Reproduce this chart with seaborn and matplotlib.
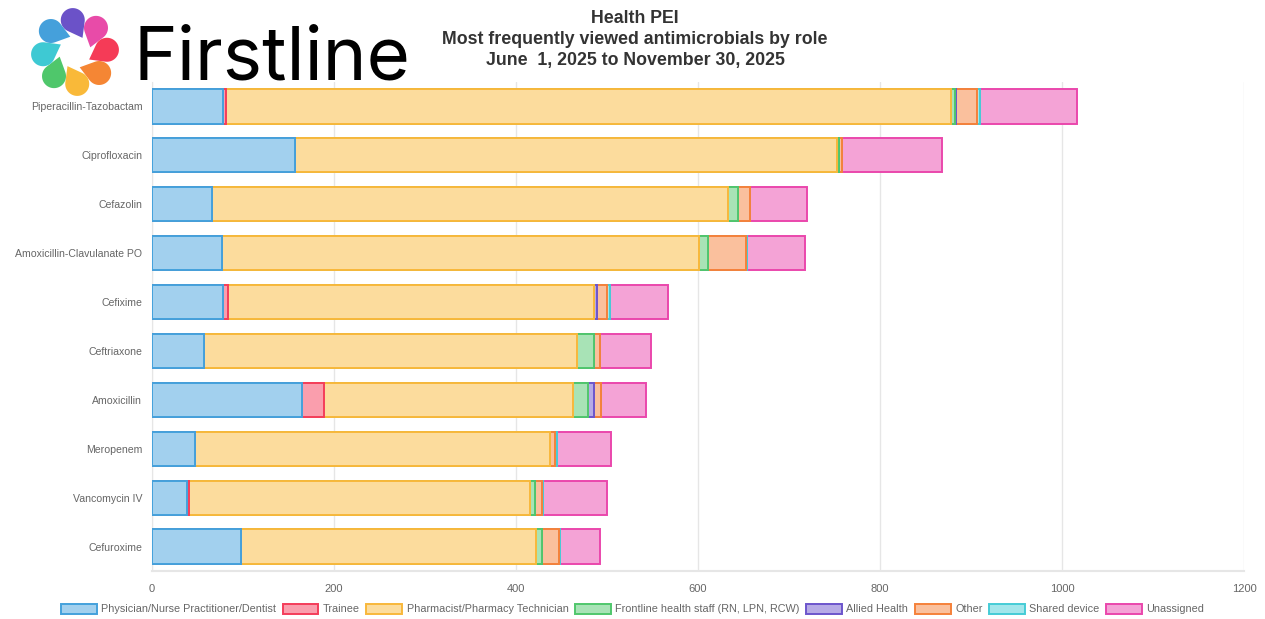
import numpy as np
import matplotlib
matplotlib.use("Agg")
import matplotlib.pyplot as plt
from matplotlib.patches import Patch, Polygon
from matplotlib.ticker import FixedLocator
import seaborn as sns

drugs = ["Piperacillin-Tazobactam", "Ciprofloxacin", "Cefazolin",
         "Amoxicillin-Clavulanate PO", "Cefixime", "Ceftriaxone",
         "Amoxicillin", "Meropenem", "Vancomycin IV", "Cefuroxime"]

roles = ["Physician/Nurse Practitioner/Dentist", "Trainee",
         "Pharmacist/Pharmacy Technician", "Frontline health staff (RN, LPN, RCW)",
         "Allied Health", "Other", "Shared device", "Unassigned"]

physician = [78, 157, 66, 77, 78, 57, 165, 47, 38, 98]
trainee = [3, 0, 0, 0, 6, 0, 24, 0, 3, 0]
pharmacist = [797, 596, 567, 524, 402, 410, 274, 390, 374, 324]
frontline = [4, 2, 11, 10, 0, 19, 16, 0, 6, 7]
allied = [2, 0, 0, 0, 3, 0, 7, 0, 0, 0]
other = [23, 3, 13, 42, 11, 6, 7, 6, 8, 18]
shared = [3, 0, 0, 1, 3, 0, 0, 2, 1, 1]
unassigned = [106, 110, 63, 64, 64, 56, 50, 59, 70, 44]

role_colors = ["#44a1dc", "#f43d5a", "#f8b83b", "#50c76c",
               "#6c55cc", "#f5813a", "#45ccd6", "#ea47ac"]

x_ticks = [0, 200, 400, 600, 800, 1000, 1200]

series = [physician, trainee, pharmacist, frontline, allied, other, shared, unassigned]


def lighten(c, a=0.5):
    rgb = np.array(matplotlib.colors.to_rgb(c))
    return tuple(rgb * a + (1 - a))


sns.set_style("white")
plt.rcParams["font.family"] = ["Liberation Sans", "DejaVu Sans"]

fig = plt.figure(figsize=(12.65, 6.19), dpi=100)
ax = fig.add_axes([152 / 1265, 1 - 571 / 619, 1092 / 1265, 489 / 619])

# stacked bars: draw cumulative totals from the outermost segment inward
cum = np.cumsum(np.array(series, dtype=float), axis=0)
for i in range(len(series) - 1, -1, -1):
    sns.barplot(x=cum[i], y=drugs, order=drugs, orient="h", ax=ax,
                color=lighten(role_colors[i]), edgecolor=role_colors[i],
                linewidth=1.4, width=0.7, saturation=1, zorder=3)

ax.set_xlim(0, 1200)
ax.set_ylim(9.5, -0.5)
ax.set_xlabel("")
ax.set_ylabel("")
ax.set_xticks(x_ticks)
ax.set_xticklabels([str(t) for t in x_ticks])
ax.grid(axis="x", color="#e6e6e6", linewidth=1.0, zorder=0)
ax.set_axisbelow(True)
for s in ["top", "right"]:
    ax.spines[s].set_visible(False)
ax.spines["left"].set_color("#e6e6e6")
ax.spines["bottom"].set_color("#e6e6e6")
ax.spines["bottom"].set_linewidth(1.5)
ax.tick_params(axis="x", colors="#e6e6e6", length=4, width=1.0, pad=5,
               labelcolor="#666666", labelsize=8)
ax.tick_params(axis="y", which="major", length=0, pad=7,
               labelcolor="#666666", labelsize=7.6)
ax.yaxis.set_minor_locator(FixedLocator(np.arange(-0.5, 10, 1)))
ax.tick_params(axis="y", which="minor", length=6, width=1.0, color="#e6e6e6")

fig.text(0.502, 1 - 10 / 619,
         "Health PEI\nMost frequently viewed antimicrobials by role\nJune  1, 2025 to November 30, 2025",
         ha="center", va="top", fontsize=12.8, fontweight="bold", color="#333333",
         linespacing=1.32)

handles = [Patch(facecolor=lighten(c), edgecolor=c, linewidth=1.4) for c in role_colors]
fig.legend(handles, roles, loc="center", bbox_to_anchor=(0.5, 1 - 609 / 619),
           ncol=8, frameon=False, fontsize=7.8, labelcolor="#666666",
           handlelength=3.3, handleheight=1.05, handletextpad=0.4,
           columnspacing=0.62)

# logo overlay in pixel coordinates
lax = fig.add_axes([0, 0, 1, 1], zorder=10)
lax.set_xlim(0, 1265)
lax.set_ylim(619, 0)
lax.axis("off")
lax.patch.set_alpha(0)

logo_colors = ["#6b52c8", "#e84ba8", "#f53b57", "#f58634",
               "#f9b939", "#4fc76b", "#3ec9d3", "#45a0db"]
cx, cy = 75, 52
for k, col in enumerate(logo_colors):
    th = np.radians(94 - 45 * k)
    ccx, ccy = cx + 32 * np.cos(th), cy - 32 * np.sin(th)
    ta = th - np.radians(32)
    tx, ty = cx + 16 * np.cos(ta), cy - 16 * np.sin(ta)
    r = 12
    L = np.hypot(tx - ccx, ty - ccy)
    phi0 = np.arctan2(-(ty - ccy), tx - ccx)
    beta = np.arccos(r / L)
    phis = np.linspace(phi0 + beta, phi0 + 2 * np.pi - beta, 40)
    pts = [(tx, ty)] + [(ccx + r * np.cos(p), ccy - r * np.sin(p)) for p in phis]
    lax.add_patch(Polygon(pts, closed=True, facecolor=col, edgecolor="none"))

lax.text(134, 79, "Firstline", fontsize=53.5, family=["Inter", "DejaVu Sans"],
         color="black", ha="left", va="baseline")

fig.savefig("out.png", dpi=100)
